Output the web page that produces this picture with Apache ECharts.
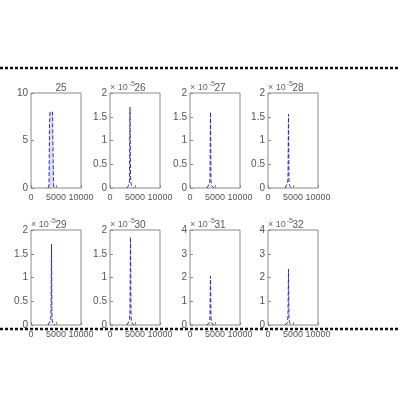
<!DOCTYPE html>
<html><head><meta charset="utf-8">
<script src="https://cdn.jsdelivr.net/npm/echarts@6/dist/echarts.min.js"></script>
<style>html,body{margin:0;padding:0;background:#fff}#c{width:400px;height:400px}</style>
</head><body><div id="c"></div>
<script>
var titles = ['25','26','27','28','29','30','31','32'];
var yMax = [10, 2, 2, 2, 2, 2, 4, 4];
var yInterval = [5, 0.5, 0.5, 0.5, 0.5, 0.5, 1, 1];
var xs = [3400, 3600, 3700, 3800, 3900, 4000, 4100, 4200, 4300, 4400, 4500, 4600, 4800];
var s25 = [0, 0.3, 6.5, 8.0, 7.9, 8.0, 7.8, 7.9, 8.0, 7.8, 0.4, 0.1, 0];
var s26 = [0, 0.02, 0.05, 0.1, 0.15, 1.7, 0.3, 0.1, 0.05, 0.02, 0.01, 0.01, 0];
var s27 = [0, 0.01, 0.02, 0.03, 0.1, 0.2, 1.6, 0.15, 0.05, 0.02, 0.01, 0.01, 0];
var s28 = [0, 0.01, 0.02, 0.03, 0.1, 0.2, 1.55, 0.15, 0.05, 0.02, 0.01, 0.01, 0];
var s29 = [0, 0.01, 0.02, 0.03, 0.1, 0.2, 1.7, 0.15, 0.06, 0.02, 0.01, 0.01, 0];
var s30 = [0, 0.01, 0.02, 0.03, 0.1, 0.3, 1.85, 0.2, 0.06, 0.02, 0.01, 0.01, 0];
var s31 = [0, 0.01, 0.02, 0.04, 0.1, 0.35, 2.05, 0.3, 0.1, 0.03, 0.01, 0.01, 0];
var s32 = [0, 0.01, 0.02, 0.04, 0.1, 0.4, 2.35, 0.3, 0.1, 0.03, 0.01, 0.01, 0];
var seriesVals = [s25, s26, s27, s28, s29, s30, s31, s32];
var expText = ['', '× 10', '× 10', '× 10', '× 10', '× 10', '× 10', '× 10'];
var expSup = ['', '-5', '-5', '-5', '-5', '-5', '-5', '-5'];

var lefts = [31, 110, 190, 268];
var tops = [93, 230];
var W = 50, H = 95;
var grids = [], xAxes = [], yAxes = [], series = [], titleArr = [], graphics = [];
for (var i = 0; i < 8; i++) {
  var L = lefts[i % 4], T = tops[Math.floor(i / 4)];
  grids.push({left: L, top: T, width: W, height: H, show: true, borderColor: '#8a8a8a', borderWidth: 1, backgroundColor: '#fff'});
  xAxes.push({type: 'value', gridIndex: i, min: 0, max: 10000, interval: 5000,
    axisLine: {show: false}, splitLine: {show: false},
    axisTick: {show: true, inside: true, length: 3, lineStyle: {color: '#8a8a8a'}},
    axisLabel: {color: '#555', fontSize: 9, fontFamily: 'Liberation Sans', margin: 5, hideOverlap: false,
      showMaxLabel: true, showMinLabel: true, formatter: function (v) { return String(v); }}});
  yAxes.push({type: 'value', gridIndex: i, min: 0, max: yMax[i], interval: yInterval[i],
    axisLine: {show: false}, splitLine: {show: false},
    axisTick: {show: true, inside: true, length: 3, lineStyle: {color: '#8a8a8a'}},
    axisLabel: {color: '#555', fontSize: 10, fontFamily: 'Liberation Sans', margin: 3, formatter: function (v) { return String(v); }}});
  var data = xs.map(function (x, k) { return [x, seriesVals[i][k]]; });
  series.push({type: 'line', xAxisIndex: i, yAxisIndex: i, data: data, showSymbol: false,
    lineStyle: {color: '#2a2ab8', width: 1, type: 'dashed'},
    areaStyle: i === 0 ? {color: 'rgba(120,120,220,0.35)'} : null, animation: false});
  titleArr.push({text: titles[i], left: L + W / 2, top: T - 15, textAlign: 'center',
    textStyle: {fontSize: 10, fontWeight: 'normal', color: '#555', fontFamily: 'Liberation Sans'}});
  if (expText[i]) {
    graphics.push({type: 'text', left: L, top: T - 12, style: {
      text: '{a|' + expText[i] + '}{b|' + expSup[i] + '}',
      rich: {a: {fontSize: 9, fill: '#666', fontFamily: 'Liberation Sans'}, b: {fontSize: 7, fill: '#666', fontFamily: 'Liberation Sans', verticalAlign: 'top', padding: [0,0,6,1]}}}});
  }
}
graphics.push({type: 'line', shape: {x1: 0, y1: 68, x2: 400, y2: 68}, style: {stroke: '#111', lineWidth: 2.5, lineDash: [3, 2]}, z: 100});
graphics.push({type: 'line', shape: {x1: 0, y1: 329, x2: 400, y2: 329}, style: {stroke: '#111', lineWidth: 2.5, lineDash: [3, 2]}, z: 100});

var chart = echarts.init(document.getElementById('c'));
chart.setOption({animation: false, backgroundColor: '#fff', title: titleArr, grid: grids, xAxis: xAxes, yAxis: yAxes, series: series, graphic: graphics});
</script></body></html>
